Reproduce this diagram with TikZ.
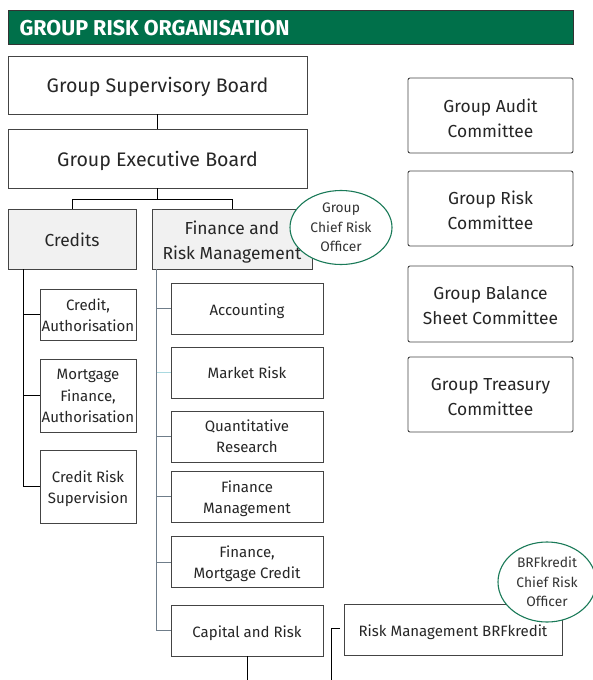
\documentclass[tikz,border=0pt]{standalone}
\usepackage{fontspec}
\setmainfont{Fira Sans}
\usetikzlibrary{shapes.geometric,calc}
\definecolor{headgreen}{HTML}{00704A}
\definecolor{ovalgreen}{HTML}{1A7A58}
\definecolor{boxline}{HTML}{444444}
\definecolor{unitfill}{HTML}{F1F1F1}
\definecolor{spineblue}{HTML}{6F7D8A}
\definecolor{lightcyan}{HTML}{A9D9E0}
% centred lines, set a little below the middle of their box
\newcommand\boxtext[2][3pt]{\raisebox{-#1}[\height][\depth]{\begin{tabular}{@{}c@{}}#2\end{tabular}}}
\begin{document}
\begin{tikzpicture}[x=1pt,y=-1pt,
  box/.style={draw=boxline,line width=0.9pt,inner sep=0pt,fill=white,text=black!85},
  bigtxt/.style={font=\fontsize{19.6}{24}\selectfont},
  midtxt/.style={font=\fontsize{17.4}{25}\selectfont},
  smalltxt/.style={font=\fontsize{15}{21}\selectfont},
  unit/.style={box,fill=unitfill},
  committee/.style={box,rounded corners=2pt,minimum width=165pt,minimum height=75pt,midtxt},
  dept/.style={box,minimum width=152pt,minimum height=51pt,smalltxt},
  credbox/.style={box,minimum width=96pt,font=\fontsize{15}{21.5}\selectfont},
  officer/.style={ellipse,draw=ovalgreen,line width=1.1pt,fill=white,inner sep=0pt,align=center,
    font=\fontsize{13.8}{19.5}\selectfont,text=black!80},
  link/.style={draw=black,line width=0.9pt},
  flink/.style={draw=spineblue,line width=0.9pt}]
\useasboundingbox (0,0) rectangle (593,680);
\coordinate (pagefoot) at (0,680);

% title bar
\node[draw=black!80,line width=0.8pt,fill=headgreen,minimum width=565pt,minimum height=34pt,
  inner sep=0pt] (title) at (290.5,27) {};
\node[anchor=west,text=white,font=\fontsize{21.5}{24}\selectfont\bfseries] (titletext)
  at (16,28) {GROUP RISK ORGANISATION};

% boards
\node[box,bigtxt,minimum width=299pt,minimum height=58pt] (gsb) at (157.5,85) {\boxtext{Group Supervisory Board}};
\node[box,bigtxt,minimum width=299pt,minimum height=59pt] (geb) at (157.5,158.5) {\boxtext{Group Executive Board}};

% divisions
\node[unit,midtxt,minimum width=128pt,minimum height=60pt] (cred) at (72,239) {\boxtext[2.5pt]{Credits}};
\node[unit,midtxt,minimum width=160pt,minimum height=60pt] (frm) at (232,239) {\boxtext[2.5pt]{Finance and\\Risk Management}};

% credit units
\node[credbox,minimum height=51pt] (ca) at (88,314.5) {\boxtext[2pt]{Credit,\\Authorisation}};
\node[credbox,minimum height=73pt] (mfa) at (88,395.5) {\boxtext[1.5pt]{Mortgage\\Finance,\\Authorisation}};
\node[credbox,minimum height=73pt] (crs) at (88,486.5) {\boxtext[2pt]{Credit Risk\\Supervision}};

% finance and risk units
\node[dept] (acc) at (247,308.5) {\boxtext[2.5pt]{Accounting}};
\node[dept] (mr)  at (247,372.5) {\boxtext[2pt]{Market Risk}};
\node[dept] (qr)  at (247,436.5) {\boxtext[1pt]{Quantitative\\Research}};
\node[dept] (fm)  at (247,496.5) {\boxtext[2pt]{Finance\\Management}};
\node[dept] (fmc) at (247,562) {\boxtext[1.5pt]{Finance,\\Mortgage Credit}};
\node[dept] (car) at (247,630.5) {\boxtext[2.5pt]{Capital and Risk}};

% BRFkredit
\node[box,smalltxt,minimum width=218pt,minimum height=51pt] (rmb) at (453,629.5) {\boxtext[2.5pt]{Risk Management BRFkredit}};

% committees
\node[committee] (audit) at (490.5,115.5) {\boxtext[4pt]{Group Audit\\Committee}};
\node[committee] (riskc) at (490.5,208.5) {\boxtext[3pt]{Group Risk\\Committee}};
\node[committee,minimum height=76pt] (balance) at (490.5,304) {\boxtext[3pt]{Group Balance\\Sheet Committee}};
\node[committee] (treasury) at (490.5,394.5) {\boxtext[3.5pt]{Group Treasury\\Committee}};

% board connectors
\coordinate (split) at ($(geb.south)+(0,11)$);
\draw[link] (gsb) -- (geb);
\draw[link] (geb.south) -- (split);
\draw[link] (cred.north) |- (split) -| (frm.north);

% credits spine
\coordinate (cspine) at ($(cred.south west)+(16,0)$);
\draw[link] (cspine) |- (crs.west);
\draw[link] (cspine |- ca.west) -- (ca.west);
\draw[link] (cspine |- mfa.west) -- (mfa.west);

% finance spine
\coordinate (fspine) at ($(frm.south west)+(5,0)$);
\draw[flink] (fspine) |- (car.west);
\draw[flink] (fspine |- acc.west) -- (acc.west);
\draw[draw=lightcyan,line width=0.9pt] (fspine |- mr.west) -- (mr.west);
\draw[flink] (fspine |- qr.west) -- (qr.west);
\draw[flink] (fspine |- fm.west) -- (fm.west);
\draw[flink] (fspine |- fmc.west) -- (fmc.west);

% lines running off the bottom
\draw[link] (car.south) -- (car.south |- pagefoot);
\coordinate (rmbtick) at ($(rmb.west)+(-4,-1)$);
\coordinate (rmbfoot) at ($(rmb.west |- pagefoot)+(-12,0)$);
\draw[link] (rmbtick) -| (rmbfoot);

% officer ovals, drawn last so they sit over the box corners
\node[officer,minimum width=102pt,minimum height=74pt] (gcro) at (341,227.5) {Group\\Chief Risk\\Officer};
\node[officer,minimum width=98pt,minimum height=80pt] (bcro) at (547,582) {BRFkredit\\Chief Risk\\Officer};
\end{tikzpicture}
\end{document}
